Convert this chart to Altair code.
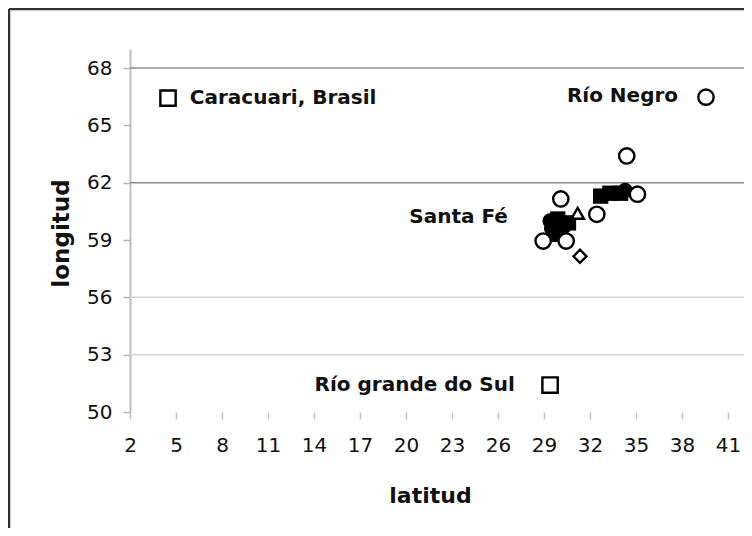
import altair as alt
import pandas as pd

# ---- data ----
open_lat = [4.48, 39.57, 29.4, 34.4, 35.1, 30.1, 31.2, 32.45, 28.95, 30.45, 31.35]
open_lon = [66.43, 66.48, 51.41, 63.4, 61.4, 61.15, 60.4, 60.35, 58.95, 58.95, 58.15]
open_shape = ["square", "circle", "square", "circle", "circle", "circle",
              "triangle-up", "circle", "circle", "circle", "diamond"]

filled_lat = [32.7, 33.3, 34.0, 34.3, 29.4, 29.9, 30.3, 29.8, 30.6, 29.5]
filled_lon = [61.3, 61.45, 61.45, 61.6, 60.0, 60.1, 59.7, 59.3, 59.9, 59.6]
filled_shape = ["square", "square", "square", "circle", "circle", "square",
                "circle", "square", "square", "circle"]

label_text = ["Caracuari, Brasil", "Río Negro", "Río grande do Sul", "Santa Fé"]
label_lat = [5.9, 37.75, 27.1, 26.65]
label_lon = [66.43, 66.53, 51.41, 60.2]
label_side = ["left", "right", "right", "right"]

x_ticks = [2, 5, 8, 11, 14, 17, 20, 23, 26, 29, 32, 35, 38, 41]
y_ticks = [50, 53, 56, 59, 62, 65, 68]
grid_values = [68, 62, 56, 53]
grid_tone = ["#8c8c8c", "#8c8c8c", "#d4d4d4", "#d4d4d4"]

open_df = pd.DataFrame({"lat": open_lat, "lon": open_lon, "shape": open_shape})
filled_df = pd.DataFrame({"lat": filled_lat, "lon": filled_lon, "shape": filled_shape})
label_df = pd.DataFrame({"lat": label_lat, "lon": label_lon, "text": label_text, "side": label_side})
grid_df = pd.DataFrame({"lon": grid_values, "tone": grid_tone})

FONT = "DejaVu Sans"

x_enc = alt.X(
    "lat:Q",
    scale=alt.Scale(domain=[2, 42.05], nice=False, zero=False),
    axis=alt.Axis(
        values=x_ticks, title="latitud", grid=False, domain=False,
        labelFlush=False, labelOverlap=False, labelBound=False,
        tickColor="#c0c0c0", tickSize=7, tickWidth=1.5,
        labelPadding=16, labelFont=FONT, labelFontSize=20, labelColor="#111111",
        titleFont=FONT, titleFontSize=22, titleFontWeight="bold", titleColor="#111111",
        titleX=300, titleY=90, titleBaseline="alphabetic", titleAlign="center",
    ),
)
y_enc = alt.Y(
    "lon:Q",
    scale=alt.Scale(domain=[50, 69], nice=False, zero=False),
    axis=alt.Axis(
        values=y_ticks, title="longitud", grid=False,
        labelFlush=False, labelOverlap=False, labelBound=False,
        domainColor="#bdbdbd", domainWidth=2,
        tickColor="#b5b5b5", tickSize=7, tickWidth=1.5,
        labelPadding=11, labelFont=FONT, labelFontSize=20, labelColor="#111111",
        titleFont=FONT, titleFontSize=23, titleFontWeight="bold", titleColor="#111111",
        titleAngle=270, titleX=-62, titleY=184, titleBaseline="alphabetic", titleAlign="center",
    ),
)

size_expr = "datum.shape == 'diamond' ? 170 : (datum.shape == 'triangle-up' ? 160 : 235)"

grid = alt.Chart(grid_df).mark_rule(strokeWidth=1.5).encode(
    y=y_enc,
    color=alt.Color("tone:N", scale=None),
)

filled = alt.Chart(filled_df).transform_calculate(sz=size_expr).mark_point(
    filled=True, color="black", opacity=1
).encode(
    x=x_enc, y=y_enc,
    shape=alt.Shape("shape:N", scale=None),
    size=alt.Size("sz:Q", scale=None),
)

opened = alt.Chart(open_df).transform_calculate(sz=size_expr).mark_point(
    filled=False, fill="white", fillOpacity=1, stroke="black", strokeWidth=2.4, opacity=1
).encode(
    x=x_enc, y=y_enc,
    shape=alt.Shape("shape:N", scale=None),
    size=alt.Size("sz:Q", scale=None),
)

labels_left = alt.Chart(label_df).transform_filter("datum.side == 'left'").mark_text(
    align="left", baseline="middle", font=FONT, fontSize=20, fontWeight="bold", color="#111111"
).encode(x=x_enc, y=y_enc, text="text:N")

labels_right = alt.Chart(label_df).transform_filter("datum.side == 'right'").mark_text(
    align="right", baseline="middle", font=FONT, fontSize=20, fontWeight="bold", color="#111111"
).encode(x=x_enc, y=y_enc, text="text:N")

frame_df = pd.DataFrame({"k": [0]})
frame_left = alt.Chart(frame_df).mark_rule(color="#333333", strokeWidth=2.5).encode(
    x=alt.value(-121), y=alt.value(-40), y2=alt.value(479)
)
frame_top = alt.Chart(frame_df).mark_rule(color="#333333", strokeWidth=2.5).encode(
    x=alt.value(-121), x2=alt.value(614), y=alt.value(-40)
)

chart = alt.layer(
    grid, filled, opened, labels_left, labels_right, frame_left, frame_top
).properties(
    width=614, height=363,
    padding={"left": 122, "top": 41, "right": 0, "bottom": 116},
    autosize=alt.AutoSizeParams(type="none"),
    background="white",
).configure_view(stroke=None)

chart.save("out.html", embed_options={"renderer": "svg", "actions": False})
